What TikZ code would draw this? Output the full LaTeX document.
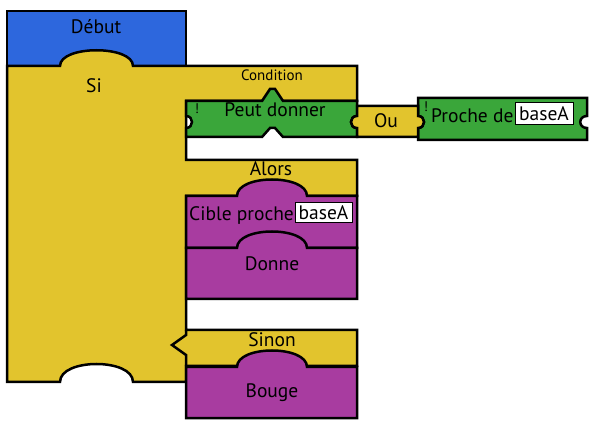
\documentclass[tikz,border=0pt]{standalone}
\usepackage{fontspec}
\setmainfont{PT Sans}

\definecolor{bleu}{RGB}{45,103,221}
\definecolor{jaune}{RGB}{226,196,45}
\definecolor{vert}{RGB}{58,166,58}
\definecolor{mauve}{RGB}{168,60,160}

% bosse : de (#1,#3) a (#2,#3), hauteur #4
\newcommand{\bosse}[4]{.. controls (#1,#3-#4) and (#2,#3-#4) .. (#2,#3)}
% creux lateral : de (#1,#2) a (#1,#3), profondeur #4
\newcommand{\creux}[4]{.. controls (#1+#4,#2) and (#1+#4,#3) .. (#1,#3)}

\begin{document}
\begin{tikzpicture}[x=1pt, y=-1pt,
  bloc/.style={draw=black, line width=2.5pt},
  texte/.style={font=\fontsize{19.5}{21}\selectfont, anchor=base, inner sep=0pt},
  petit/.style={font=\fontsize{15}{17}\selectfont, anchor=base, inner sep=0pt},
  excl/.style={font=\fontsize{14}{15}\selectfont, anchor=base, inner sep=0pt},
  champ/.style={draw=black, line width=1pt, fill=white, inner sep=0pt,
    font=\fontsize{19.5}{21}\selectfont}]

\useasboundingbox (0,0) rectangle (608,430);

\begin{scope}
\draw[bloc, fill=bleu] (7,11) rectangle (186,66);

\draw[bloc, fill=jaune] (7,66) -- (60,66) \bosse{60}{133}{66}{21} -- (357,66)
  -- (357,101) -- (186,101) -- (186,160) -- (357,160) -- (357,196)
  -- (186,196) -- (186,330) -- (357,330) -- (357,366) -- (186,366)
  -- (186,382) -- (133,382) \bosse{133}{60}{382}{24} -- (7,382) -- cycle;
\draw[bloc] (186,330) -- (186,335) -- (172,345) -- (186,355) -- (186,366);
\end{scope}

\begin{scope}
\draw[bloc, fill=vert] (186,101) -- (262,101) -- (270,89) -- (275,89) -- (283,101)
  -- (357,101) -- (357,116) \creux{357}{116}{128}{-8} -- (357,137)
  -- (283,137) -- (275,128) -- (270,128) -- (262,137) -- (186,137)
  -- (186,128) \creux{186}{128}{116}{8} -- cycle;

\draw[bloc, fill=vert] (418,98) -- (587,98) -- (587,116) \creux{587}{116}{128}{-9}
  -- (587,140) -- (418,140) -- (418,128) \creux{418}{128}{116}{8} -- cycle;

\draw[bloc, fill=jaune] (357,106) -- (418,106) -- (418,116) \creux{418}{116}{128}{8}
  -- (418,137) -- (357,137) -- (357,128) \creux{357}{128}{116}{-8} -- cycle;
\end{scope}

\foreach \haut/\bas in {196/248, 248/299, 367/418}
\draw[bloc, fill=mauve] (186,\bas) -- (186,\haut) -- (237,\haut)
  \bosse{237}{307}{\haut}{22} -- (357,\haut) -- (357,\bas) -- cycle;

\node[texte] (debut) at (96,34) {Début};
\node[texte] (si) at (94,93) {Si};
\node[petit] (condition) at (272,81) {Condition};
\node[texte] (peut) at (275,117) {Peut donner};
\node[excl] (excl1) at (197,114) {!};
\node[texte] (ou) at (386,128) {Ou};
\node[excl] (excl2) at (426,112) {!};
\node[texte, anchor=base west] (proche) at (431,123) {Proche de};
\node[champ, minimum width=58pt, minimum height=22pt] (base1) at (544,114) {baseA};
\node[texte] (alors) at (271,176) {Alors};
\node[texte, anchor=base west] (cible) at (189,221) {Cible proche};
\node[champ, minimum width=57pt, minimum height=20pt] (base2) at (323.5,213) {baseA};
\node[texte] (donne) at (272,271) {Donne};
\node[texte] (sinon) at (272,347) {Sinon};
\node[texte] (bouge) at (272,397) {Bouge};

\end{tikzpicture}
\end{document}
